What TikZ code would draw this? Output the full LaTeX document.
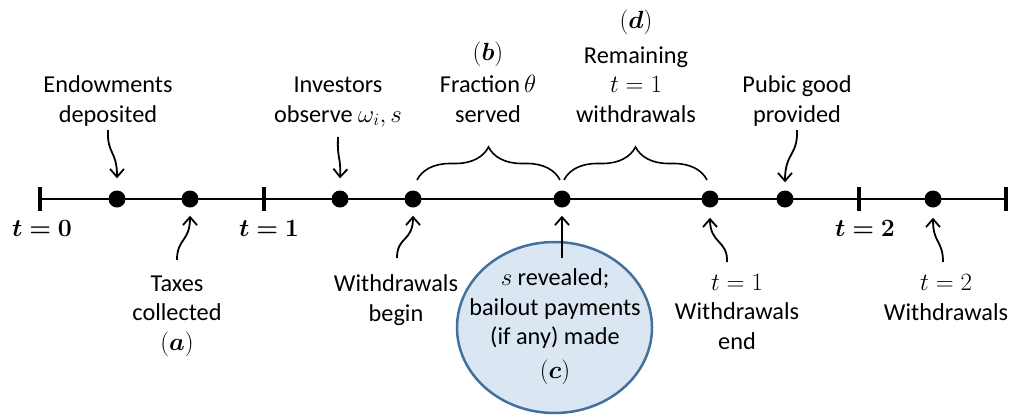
\documentclass[tikz,border=0pt]{standalone}
\usepackage{amsmath}
\usepackage{bm}
\usepackage{fontspec}
\setmainfont{Carlito}
\usetikzlibrary{arrows.meta,decorations.pathreplacing,shapes.geometric}

\definecolor{bubblefill}{RGB}{218,231,243}
\definecolor{bubbleedge}{RGB}{65,113,156}

\begin{document}
\begin{tikzpicture}[x=1pt,y=-1pt,
  lbl/.style={align=center,anchor=base,inner sep=0pt,
    font=\fontsize{24.3}{29.5}\selectfont},
  evt/.style={circle,fill=black,minimum size=17pt,inner sep=0pt},
  tickmark/.style={rectangle,fill=black,minimum width=4pt,minimum height=24pt,inner sep=0pt},
  ptr/.style={line width=1.8pt,-{Straight Barb[length=8pt,width=14pt]}},
  curly/.style={decorate,decoration={brace,amplitude=33pt},line width=1.6pt},
  bubble/.style={ellipse,draw=bubbleedge,fill=bubblefill,line width=2.5pt,
    minimum width=195pt,minimum height=171pt,inner sep=0pt}]
\useasboundingbox (0,0) rectangle (1017,416);

% the time axis
\node[tickmark] (k0) at (40,199) {};
\node[tickmark] (k1) at (264,199) {};
\node[tickmark] (k2) at (859,199) {};
\node[tickmark] (k3) at (1006,199) {};
\draw[line width=2.5pt] (k0.center) -- (k3.center);

% events on the axis
\node[evt] (e1) at (117,199) {};
\node[evt] (e2) at (190,199) {};
\node[evt] (e3) at (340,199) {};
\node[evt] (e4) at (413,199) {};
\node[evt] (e5) at (562,199) {};
\node[evt] (e6) at (710,199) {};
\node[evt] (e7) at (785,199) {};
\node[evt] (e8) at (933,199) {};

% period labels
\node[lbl] (t0) at (42,236) {$\boldsymbol{t=0}$};
\node[lbl] (t1) at (269,236) {$\boldsymbol{t=1}$};
\node[lbl] (t2) at (865,236) {$\boldsymbol{t=2}$};

% bailout bubble
\node[bubble] (bub) at (554.5,327.5) {};

% labels above the axis
\node[lbl] (endow) at (108,122) {Endowments\\deposited};
\node[lbl] (invest) at (338,122) {Investors\\observe $\omega_i, s$};
\node[lbl] (frac) at (488,122) {$(\boldsymbol{b})$\\[3pt]Fraction\,$\theta$\\served};
\node[lbl] (remain) at (636,122) {$(\boldsymbol{d})$\\[5pt]Remaining\\$t=1$\\withdrawals};
\node[lbl] (pubic) at (797,122) {Pubic good\\provided};

% labels below the axis
\node[lbl] (taxes) at (177,350) {Taxes\\collected\\$(\boldsymbol{a})$};
\node[lbl] (wbegin) at (396,321) {Withdrawals\\begin};
\node[lbl] (reveal) at (555,378) {$s$ revealed;\\bailout payments\\(if any) made\\[4pt]$(\boldsymbol{c})$};
\node[lbl] (wend) at (737,349) {$t=1$\\Withdrawals\\end};
\node[lbl] (wtwo) at (946,320) {$t=2$\\Withdrawals};

% pointer tails
\coordinate (p1) at (108,130);
\coordinate (p3) at (338,137);
\coordinate (p7) at (797,130);
\coordinate (p2) at (177,260);
\coordinate (p4) at (397,258);
\coordinate (p5) at (562,258);
\coordinate (p6) at (727,262);
\coordinate (p8) at (943,262);

% pointers from above
\draw[ptr] (p1) .. controls (107,155) and (117,150) .. ([yshift=12pt]e1.north);
\draw[ptr] (p3) .. controls (337,160) and (341,156) .. ([yshift=12pt]e3.north);
\draw[ptr] (p7) .. controls (798,156) and (785,152) .. ([yshift=8pt]e7.north);
% pointers from below
\draw[ptr] (p2) .. controls (177,238) and (190,242) .. ([yshift=-8pt]e2.south);
\draw[ptr] (p4) .. controls (397,236) and (413,242) .. ([yshift=-8pt]e4.south);
\draw[ptr] (p5) -- ([yshift=-8pt]e5.south);
\draw[ptr] (p6) .. controls (728,240) and (710,244) .. ([yshift=-10pt]e6.south);
\draw[ptr] (p8) .. controls (943,240) and (933,244) .. ([yshift=-10pt]e8.south);

% phases of withdrawals
\draw[curly] ([xshift=4pt,yshift=19pt]e4.center) -- ([xshift=-2pt,yshift=19pt]e5.center);
\draw[curly] ([xshift=2pt,yshift=19pt]e5.center) -- ([xshift=-3pt,yshift=19pt]e6.center);
\end{tikzpicture}
\end{document}
